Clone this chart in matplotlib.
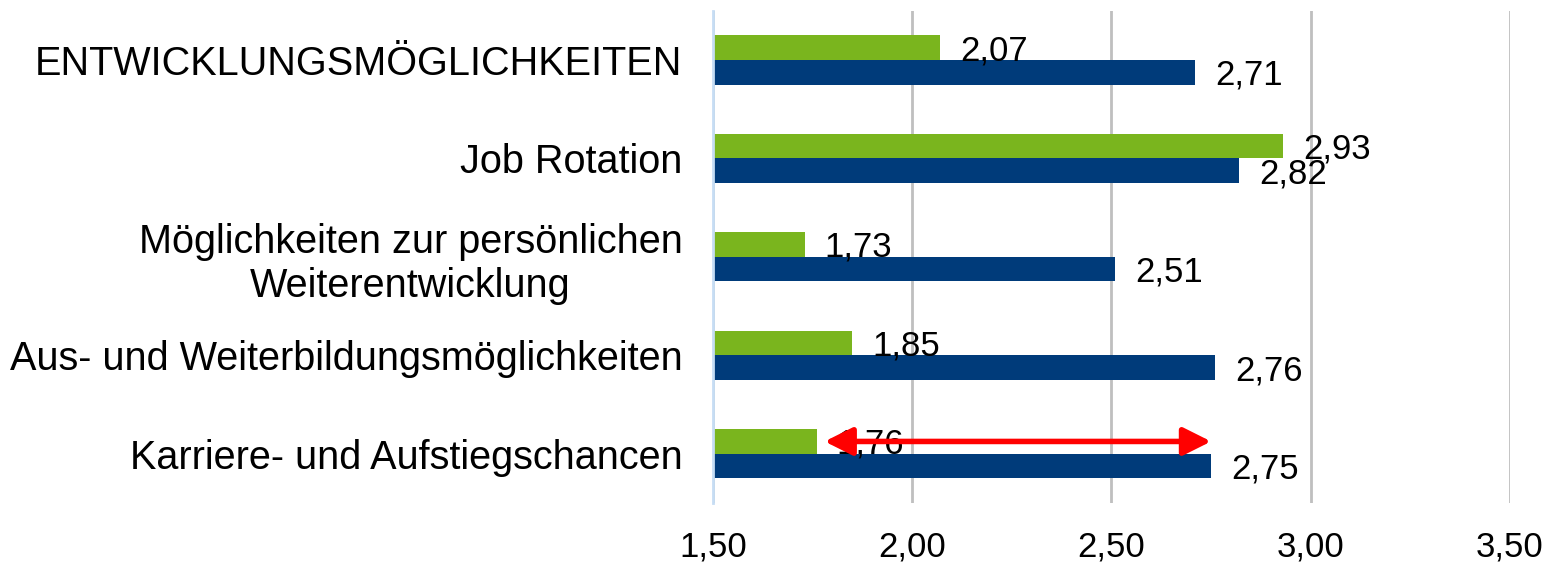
import numpy as np
import matplotlib
matplotlib.use("Agg")
import matplotlib.pyplot as plt

categories = [
    "ENTWICKLUNGSMÖGLICHKEITEN",
    "Job Rotation",
    "Möglichkeiten zur persönlichen\nWeiterentwicklung",
    "Aus- und Weiterbildungsmöglichkeiten",
    "Karriere- und Aufstiegschancen",
]
green_values = [2.07, 2.93, 1.73, 1.85, 1.76]
navy_values = [2.71, 2.82, 2.51, 2.76, 2.75]
x_ticks = [1.5, 2.0, 2.5, 3.0, 3.5]
# red double arrow in the last row (gap between the two bars)
arrow_from, arrow_to = 1.78, 2.75

GREEN = "#7AB51E"
NAVY = "#003B7A"

plt.rcParams["font.family"] = ["Liberation Sans", "DejaVu Sans"]

fig = plt.figure(figsize=(15.46, 5.63), dpi=100)
ax = fig.add_axes([0.4612, 0.1066, 0.5155, 0.8744])

y = np.arange(len(categories))
h = 0.25
ax.barh(y - h / 2, np.array(green_values) - 1.5, left=1.5, height=h, color=GREEN, zorder=3)
ax.barh(y + h / 2, np.array(navy_values) - 1.5, left=1.5, height=h, color=NAVY, zorder=3)

for i, (g, n) in enumerate(zip(green_values, navy_values)):
    ax.text(g + 0.05, i - h / 2 + 0.03, f"{g:.2f}".replace(".", ","),
            va="center", ha="left", fontsize=25, zorder=5)
    ax.text(n + 0.05, i + h / 2 + 0.03, f"{n:.2f}".replace(".", ","),
            va="center", ha="left", fontsize=25, zorder=5)

last = len(categories) - 1
ax.annotate("", xy=(arrow_from, last - h / 2), xytext=(arrow_to, last - h / 2),
            arrowprops=dict(arrowstyle="<|-|>", color="red", lw=4,
                            mutation_scale=42, shrinkA=0, shrinkB=0), zorder=6)

ax.set_xlim(1.5, 3.5)
ax.set_ylim(len(categories) - 0.5, -0.5)
ax.set_xticks(x_ticks)
ax.set_xticklabels([f"{t:.2f}".replace(".", ",") for t in x_ticks], fontsize=25)
ax.set_yticks(y)
ax.set_yticklabels(categories, fontsize=28.5)
ax.get_yticklabels()[2].set_multialignment("center")
ax.tick_params(axis="y", length=0, pad=22)
ax.tick_params(axis="x", length=0, pad=20)

ax.xaxis.grid(True, color="#BFBFBF", linewidth=2, zorder=0)
for s in ["top", "right", "bottom"]:
    ax.spines[s].set_visible(False)
ax.spines["left"].set_color("#C6DDF4")
ax.spines["left"].set_linewidth(2)
ax.spines["left"].set_zorder(4)

fig.savefig("out.png", dpi=100)
plt.close(fig)
